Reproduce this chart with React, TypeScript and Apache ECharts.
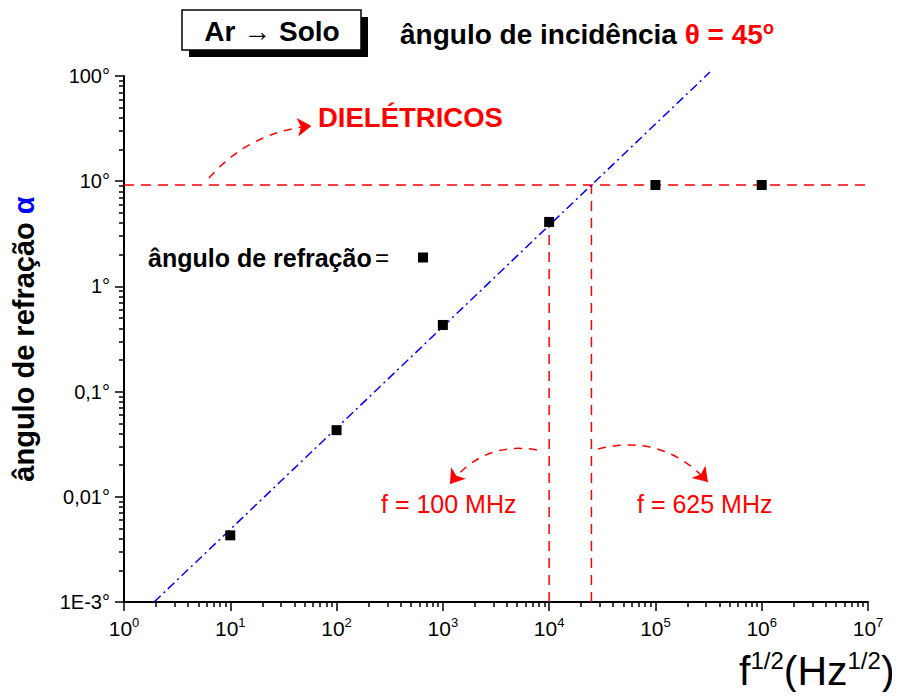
import React, { useEffect, useRef } from "react";
import * as echarts from "echarts";

// ---- data ----
const sqrtFreq = [10, 100, 1000, 10000, 100000, 1000000];
const refractionAngle = [0.0043, 0.043, 0.43, 4.1, 9.2, 9.2];
const fitLineX = [1.92, 326000];
const fitLineY = [0.001, 109];
const dielectricAngle = 9.2;
const sqrtF100MHz = 10000;
const angleAt100MHz = 4.1;
const sqrtF625MHz = 25000;
const xRange = [1, 1e7];
const yRange = [0.001, 100];
const yTickLabels: Record<string, string> = {
  "-3": "1E-3°",
  "-2": "0,01°",
  "-1": "0,1°",
  "0": "1°",
  "1": "10°",
  "2": "100°",
};
// annotation arrows (data space)
const arrowDielectric = [[6.3, 10.7], [58, 33.5]];
const arrow100 = [[7680, 0.0279], [1166, 0.0132]];
const arrow625 = [[28800, 0.0284], [312000, 0.0138]];

const FONT = "Liberation Sans, Arial, Helvetica, sans-serif";
const RED = "#ff0000";

function minorTickValues(fromExp: number, toExp: number): number[] {
  const out: number[] = [];
  for (let e = fromExp; e < toExp; e++) {
    for (let k = 2; k <= 9; k++) out.push(k * Math.pow(10, e));
  }
  return out;
}

export default function App() {
  const ref = useRef<HTMLDivElement>(null);
  useEffect(() => {
    if (!ref.current) return;
    const chart = echarts.init(ref.current, null, { renderer: "svg" });
    const minorX = minorTickValues(0, 7);
    const minorY = minorTickValues(-3, 2);
    const redDash = { color: RED, width: 1.5, type: [10, 7] as number[] };

    const textStyleBase = (extra: any) => ({
      fontFamily: FONT,
      align: "left",
      verticalAlign: "middle",
      textAlign: "left",
      textVerticalAlign: "middle",
      ...extra,
    });

    const option: any = {
      animation: false,
      grid: { left: 124, right: 32, top: 76, bottom: 98 },
      legend: {
        show: true,
        left: 143,
        top: 240,
        align: "right",
        icon: "rect",
        itemWidth: 10,
        itemHeight: 10,
        data: ["ângulo de refração"],
        formatter: () => "{t|ângulo de refração} {eq|=}",
        textStyle: {
          rich: {
            t: { fontFamily: FONT, fontSize: 25, fontWeight: "bold", color: "#000" },
            eq: { fontFamily: FONT, fontSize: 24, color: "#000", padding: [0, 24, 0, 0] },
          },
        },
      },
      xAxis: [
        {
          type: "log",
          logBase: 10,
          position: "bottom",
          min: xRange[0],
          max: xRange[1],
          interval: 1,
          splitNumber: 7,
          axisLine: { show: true, lineStyle: { color: "#000", width: 2 } },
          axisTick: { show: true, inside: false, length: 9, lineStyle: { color: "#000", width: 1.5 } },
          minorTick: { show: false },
          splitLine: { show: false },
          axisLabel: {
            margin: 14,
            formatter: (v: number) => "{b|10}{s|" + Math.round(Math.log10(v)) + "}",
            rich: {
              b: { fontFamily: FONT, fontSize: 21, color: "#000", lineHeight: 24 },
              s: { fontFamily: FONT, fontSize: 13, color: "#000", lineHeight: 13, verticalAlign: "top" },
            },
          },
        },
        {
          // minor ticks axis (2..9 × 10^n)
          type: "log",
          logBase: 10,
          position: "bottom",
          offset: 0,
          min: xRange[0],
          max: xRange[1],
          interval: 1,
          axisLine: { show: false },
          axisTick: {
            show: true,
            inside: false,
            length: 5,
            customValues: minorX,
            lineStyle: { color: "#000", width: 1.5 },
          },
          axisLabel: { show: false },
          splitLine: { show: false },
        },
      ],
      yAxis: [
        {
          type: "log",
          logBase: 10,
          position: "left",
          min: yRange[0],
          max: yRange[1],
          interval: 1,
          splitNumber: 5,
          axisLine: { show: true, lineStyle: { color: "#000", width: 2 } },
          axisTick: { show: true, inside: false, length: 9, lineStyle: { color: "#000", width: 1.5 } },
          minorTick: { show: false },
          splitLine: { show: false },
          axisLabel: {
            margin: 14,
            fontFamily: FONT,
            fontSize: 20,
            color: "#000",
            formatter: (v: number) => yTickLabels[String(Math.round(Math.log10(v)))] ?? "",
          },
          name: "ângulo de refração {a|α}",
          nameLocation: "middle",
          nameRotate: 90,
          nameGap: 86,
          nameTextStyle: {
            fontFamily: FONT,
            fontSize: 29,
            fontWeight: "bold",
            color: "#000",
            rich: {
              a: { fontFamily: FONT, fontSize: 29, fontWeight: "bold", color: "#0000ff" },
            },
          },
        },
        {
          // minor ticks axis (2..9 × 10^n)
          type: "log",
          logBase: 10,
          position: "left",
          offset: 0,
          min: yRange[0],
          max: yRange[1],
          interval: 1,
          axisLine: { show: false },
          axisTick: {
            show: true,
            inside: false,
            length: 5,
            customValues: minorY,
            lineStyle: { color: "#000", width: 1.5 },
          },
          axisLabel: { show: false },
          splitLine: { show: false },
        },
      ],
      series: [
        {
          type: "line",
          name: "dielectric",
          data: [[xRange[0], dielectricAngle], [xRange[1], dielectricAngle]],
          symbol: "none",
          lineStyle: redDash,
          z: 3,
        },
        {
          type: "line",
          name: "v100",
          data: [[sqrtF100MHz, yRange[0]], [sqrtF100MHz, angleAt100MHz]],
          symbol: "none",
          lineStyle: redDash,
          z: 3,
        },
        {
          type: "line",
          name: "v625",
          data: [[sqrtF625MHz, yRange[0]], [sqrtF625MHz, dielectricAngle]],
          symbol: "none",
          lineStyle: redDash,
          z: 3,
        },
        {
          type: "line",
          name: "fit",
          data: [[fitLineX[0], fitLineY[0]], [fitLineX[1], fitLineY[1]]],
          symbol: "none",
          clip: false,
          lineStyle: { color: "#0000ff", width: 1.5, type: [9, 4, 2, 4] },
          z: 4,
        },
        {
          type: "lines",
          name: "arrows",
          coordinateSystem: "cartesian2d",
          symbol: ["none", "arrow"],
          symbolSize: 14,
          lineStyle: { color: RED, width: 1.5, type: [8, 7], opacity: 1 },
          data: [
            { coords: arrowDielectric, lineStyle: { curveness: 0.2 } },
            { coords: arrow100, lineStyle: { curveness: -0.3 } },
            { coords: arrow625, lineStyle: { curveness: 0.3 } },
          ],
          z: 5,
        },
        {
          type: "scatter",
          name: "ângulo de refração",
          data: sqrtFreq.map((x, i) => [x, refractionAngle[i]]),
          symbol: "rect",
          symbolSize: 10,
          itemStyle: { color: "#000", opacity: 1 },
          z: 6,
        },
      ],
      graphic: [
        { type: "rect", shape: { x: 189, y: 17, width: 179, height: 40 }, style: { fill: "#000" } },
        {
          type: "rect",
          shape: { x: 182, y: 10, width: 179, height: 40 },
          style: { fill: "#fff", stroke: "#000", lineWidth: 1.5 },
        },
        {
          type: "text",
          x: 272,
          y: 31,
          style: textStyleBase({
            text: "Ar → Solo",
            fontSize: 28,
            fontWeight: "bold",
            fill: "#000",
            align: "center",
            textAlign: "center",
          }),
        },
        {
          type: "text",
          x: 400,
          y: 19,
          style: {
            text: "{a|ângulo de incidência }{b|θ = 45}{s|o}",
            fontFamily: FONT,
            align: "left",
            verticalAlign: "top",
            textAlign: "left",
            textVerticalAlign: "top",
            rich: {
              a: { fontFamily: FONT, fontSize: 28, fontWeight: "bold", fill: "#000", color: "#000", lineHeight: 30 },
              b: { fontFamily: FONT, fontSize: 28, fontWeight: "bold", fill: RED, color: RED, lineHeight: 30 },
              s: { fontFamily: FONT, fontSize: 18, fontWeight: "bold", fill: RED, color: RED, lineHeight: 8, verticalAlign: "top" },
            },
          },
        },
        {
          type: "text",
          x: 318,
          y: 117,
          style: textStyleBase({ text: "DIELÉTRICOS", fontSize: 27.5, fontWeight: "bold", fill: RED }),
        },
        {
          type: "text",
          x: 381,
          y: 504,
          style: textStyleBase({ text: "f = 100 MHz", fontSize: 25, fill: RED }),
        },
        {
          type: "text",
          x: 637,
          y: 504,
          style: textStyleBase({ text: "f = 625 MHz", fontSize: 25, fill: RED }),
        },
        {
          type: "text",
          x: 739,
          y: 648,
          style: {
            text: "{b|f}{s|1/2}{b|(Hz}{s|1/2}{b|)}",
            fontFamily: FONT,
            align: "left",
            verticalAlign: "top",
            textAlign: "left",
            textVerticalAlign: "top",
            rich: {
              b: { fontFamily: FONT, fontSize: 41, fill: "#000", color: "#000", lineHeight: 46 },
              s: { fontFamily: FONT, fontSize: 24, fill: "#000", color: "#000", lineHeight: 16, verticalAlign: "top" },
            },
          },
        },
      ],
    };
    chart.setOption(option);
    return () => chart.dispose();
  }, []);
  return <div ref={ref} style={{ width: 900, height: 700, margin: -8 }} />;
}
